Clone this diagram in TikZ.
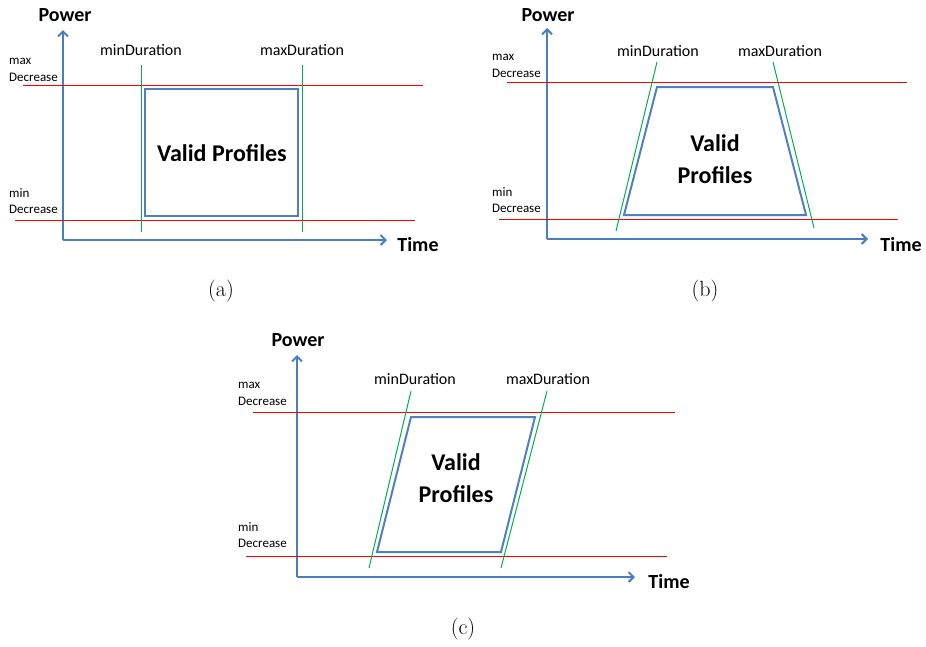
\documentclass[tikz,border=0pt]{standalone}
\usepackage{fontspec}
\newfontfamily\calibri{Carlito}
\usepackage{tikz}
\usetikzlibrary{arrows.meta, positioning}
\definecolor{axisblue}{RGB}{74,126,193}
\definecolor{boxblue}{RGB}{79,129,189}
\definecolor{durgreen}{RGB}{0,176,80}
\tikzset{
  axisline/.style={
    draw=axisblue, line width=2pt, -{Straight Barb[length=5pt,width=10pt]}
  },
  limit/.style={draw=red, line width=1pt},
  duration/.style={draw=durgreen, line width=1pt},
  profile/.style={draw=boxblue, line width=2pt, line join=miter},
  axlabel/.style={font=\calibri\bfseries\fontsize{20}{24}\selectfont, inner sep=0pt},
  validlabel/.style={font=\calibri\bfseries\fontsize{24}{32}\selectfont, inner sep=0pt, align=center},
  durlabel/.style={font=\calibri\fontsize{16}{19}\selectfont, inner sep=0pt},
  limlabel/.style={font=\calibri\fontsize{13}{16.5}\selectfont, inner sep=0pt, align=left, anchor=west},
  caption/.style={font=\fontsize{22}{26}\selectfont, inner sep=0pt}
}

\begin{document}
\begin{tikzpicture}[x=1pt, y=-1pt]
\useasboundingbox (0,0) rectangle (926,646);

% (a) rectangle
\coordinate (Oa) at (63,240);
\draw[axisline] (Oa) -- (63,30);
\draw[axisline] (Oa) -- (387,240);
\node[axlabel] (powa) at (65,15) {Power};
\node[axlabel] (timea) at (418,245) {Time};
\draw[limit] (23,85.5) -- (423,85.5);
\draw[limit] (15,220.5) -- (415,220.5);
\node[limlabel] (maxa) at (9,70) {max\\Decrease};
\node[limlabel] (mina) at (9,201) {min\\Decrease};
\draw[duration] (141.5,65) -- (141.5,232);
\draw[duration] (302.5,65) -- (302.5,232);
\node[durlabel] (mindura) at (141,50) {minDuration};
\node[durlabel] (maxdura) at (302,50) {maxDuration};
\draw[profile] (145,89) rectangle (298,216);
\node[validlabel] (valida) at (222,153) {Valid Profiles};
\node[caption] (capa) at (221,291) {(a)};

% (b) trapezoid
\coordinate (Ob) at (547,239);
\draw[axisline] (Ob) -- (547,28);
\draw[axisline] (Ob) -- (868,239);
\node[axlabel] (powb) at (548,15) {Power};
\node[axlabel] (timeb) at (901,245) {Time};
\draw[limit] (507,82.5) -- (907,82.5);
\draw[limit] (499,219.5) -- (898,219.5);
\node[limlabel] (maxb) at (492,66) {max\\Decrease};
\node[limlabel] (minb) at (492,200) {min\\Decrease};
\draw[duration] (657,62) -- (616,231);
\draw[duration] (773,62) -- (814,228);
\node[durlabel] (mindurb) at (658,51) {minDuration};
\node[durlabel] (maxdurb) at (780,51) {maxDuration};
\draw[profile] (657,87) -- (773,87) -- (806,215) -- (624,215) -- cycle;
\node[validlabel] (validb) at (715,159) {Valid\\Profiles};
\node[caption] (capb) at (705,291) {(b)};

% (c) parallelogram
\coordinate (Oc) at (297,577);
\draw[axisline] (Oc) -- (297,355);
\draw[axisline] (Oc) -- (635,577);
\node[axlabel] (powc) at (298,340) {Power};
\node[axlabel] (timec) at (669,582) {Time};
\draw[limit] (253,412.5) -- (675,412.5);
\draw[limit] (246,556.5) -- (667,556.5);
\node[limlabel] (maxc) at (238,394) {max\\Decrease};
\node[limlabel] (minc) at (238,535) {min\\Decrease};
\draw[duration] (411,391) -- (369,568);
\draw[duration] (547,391) -- (501,568);
\node[durlabel] (mindurc) at (415,379) {minDuration};
\node[durlabel] (maxdurc) at (548,379) {maxDuration};
\draw[profile] (411,417) -- (535,417) -- (501,552) -- (377,552) -- cycle;
\node[validlabel] (validc) at (456,478) {Valid\\Profiles};
\node[caption] (capc) at (463,629) {(c)};
\end{tikzpicture}
\end{document}
